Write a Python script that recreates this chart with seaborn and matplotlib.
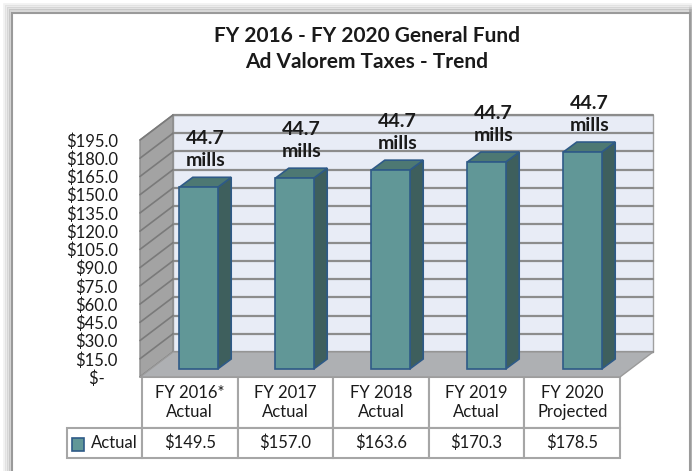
import matplotlib.pyplot as plt
import seaborn as sns
from matplotlib.patches import Polygon, Rectangle

# -------------------------------
# Data
# -------------------------------
years = ["FY 2016*", "FY 2017", "FY 2018", "FY 2019", "FY 2020"]
status = ["Actual", "Actual", "Actual", "Actual", "Projected"]
taxes = [149.5, 157.0, 163.6, 170.3, 178.5]
millage = [44.7, 44.7, 44.7, 44.7, 44.7]
y_ticks = list(range(0, 196, 15))

sns.set_style("white")
plt.rcParams["font.family"] = ["Lato", "DejaVu Sans"]

front_col = "#619797"
side_col = "#3E5F5D"
top_col = "#4D7873"
edge_col = "#2E5A87"

W, H = 695, 471
fig = plt.figure(figsize=(W / 100, H / 100), dpi=100)

# front plane of the 3d box (pixels)
left, right, top, bottom = 140, 620, 140, 377
ax = fig.add_axes([left / W, 1 - bottom / H, (right - left) / W, (bottom - top) / H])

labels = [f"{y}\n{s}" for y, s in zip(years, status)]
sns.barplot(x=labels, y=taxes, ax=ax, width=0.4, color=front_col,
            saturation=1, edgecolor=edge_col, linewidth=1.2, zorder=5)
bars = list(ax.patches)

ax.set_xlim(-0.5, 4.5)
ax.set_ylim(0, 195)
ax.patch.set_visible(False)
for s in ax.spines.values():
    s.set_visible(False)

# pixel -> data units
xs = (right - left) / 5
ys = (bottom - top) / 195
ddx, ddy = 33 / xs, 25 / ys          # depth of the box
bx, by = 10.5 / xs, 8 / ys           # bars sit a bit into the box
bdx, bdy = 13.5 / xs, 10 / ys        # depth of a bar

# walls and floor
ax.add_patch(Rectangle((-0.5 + ddx, ddy), 5, 195, fc="#E8ECF6", ec="#A0A0A0",
                       lw=1, clip_on=False, zorder=0.2))
ax.add_patch(Polygon([(-0.5, 0), (-0.5, 195), (-0.5 + ddx, 195 + ddy), (-0.5 + ddx, ddy)],
                     closed=True, fc="#A3A3A3", ec="#8A8A8A", lw=1, clip_on=False, zorder=0.3))
for t in y_ticks:
    ax.plot([-0.5 + ddx, 4.5 + ddx], [t + ddy, t + ddy], color="#8C8C8C", lw=1.6,
            clip_on=False, zorder=0.4)
    ax.plot([-0.5, -0.5 + ddx], [t, t + ddy], color="#7A7A7A", lw=1.2,
            clip_on=False, zorder=0.4)
ax.add_patch(Polygon([(-0.5, 0), (4.5, 0), (4.5 + ddx, ddy), (-0.5 + ddx, ddy)],
                     closed=True, fc="#AEB0B3", ec="#9A9A9A", lw=1, clip_on=False, zorder=0.6))

# 3d faces for the bars
for p, m in zip(bars, millage):
    p.set_x(p.get_x() + bx)
    p.set_y(by)
    x0, x1 = p.get_x(), p.get_x() + p.get_width()
    y0, y1 = by, by + p.get_height()
    ax.add_patch(Polygon([(x1, y0), (x1 + bdx, y0 + bdy), (x1 + bdx, y1 + bdy), (x1, y1)],
                         closed=True, fc=side_col, ec=edge_col, lw=1.2, clip_on=False, zorder=4))
    ax.add_patch(Polygon([(x0, y1), (x1, y1), (x1 + bdx, y1 + bdy), (x0 + bdx, y1 + bdy)],
                         closed=True, fc=top_col, ec=edge_col, lw=1.2, clip_on=False, zorder=4))
    ax.text((x0 + x1) / 2 + bdx / 2, y1 + bdy + 7, f"{m}\nmills", ha="center", va="bottom",
            fontsize=14, fontweight="bold", color="#1A1A1A", linespacing=1.35,
            clip_on=False, zorder=6)

# y axis
ax.set_yticks(y_ticks)
ax.set_yticklabels([f"${t:.1f}" if t else "$-   " for t in y_ticks])
ax.tick_params(axis="y", length=0, pad=16, labelsize=12, labelcolor="#1A1A1A")
ax.set_xticks([])
ax.set_xlabel("")
ax.set_ylabel("")

# data table
tx0, ty1 = 67, 458
tab = ax.table(
    cellText=[[""] + labels, ["Actual"] + [f"${v:.1f}" for v in taxes]],
    cellLoc="center",
    colWidths=[75] + [95.6] * 5,
    bbox=[(tx0 - left) / (right - left), -(ty1 - bottom) / (bottom - top),
          (right - tx0) / (right - left), (ty1 - bottom) / (bottom - top)],
)
tab.auto_set_font_size(False)
tab.set_fontsize(12)
for (r, c), cell in tab.get_celld().items():
    cell.set_edgecolor("#A6A6A6")
    cell.set_linewidth(1.5)
    cell.set_height(51 if r == 0 else 30)
    cell.get_text().set_color("#1A1A1A")
    cell.get_text().set_linespacing(1.25)
tab[0, 0].visible_edges = "open"
tab[1, 0].get_text().set_horizontalalignment("right")
tab[1, 0].PAD = 0.06

# legend key in the table
fig.patches.append(Rectangle((72 / W, 1 - 451 / H), 12 / W, 13 / H, fc=front_col,
                             ec=edge_col, lw=1.2, transform=fig.transFigure, figure=fig))

# title
fig.text(367 / W, 1 - 49 / H, "FY 2016 - FY 2020 General Fund\nAd Valorem Taxes - Trend",
         ha="center", va="center", fontsize=15, fontweight="bold", color="#1A1A1A",
         linespacing=1.35)

# chart frame with shadow
for k, a in [(8, 0.08), (6, 0.12), (4, 0.18), (2, 0.25)]:
    fig.patches.append(Rectangle(((12 - k) / W, -0.1), (678 + k) / W, 1.1 - (12 - k) / H,
                                 fill=False, ec="#606060", lw=2, alpha=a,
                                 transform=fig.transFigure, figure=fig))
fig.patches.append(Rectangle((12 / W, -0.1), 678 / W, 1.1 - 13 / H, fill=False, ec="#9A9A9A",
                             lw=1.5, transform=fig.transFigure, figure=fig))

plt.savefig("out.png", dpi=100)
